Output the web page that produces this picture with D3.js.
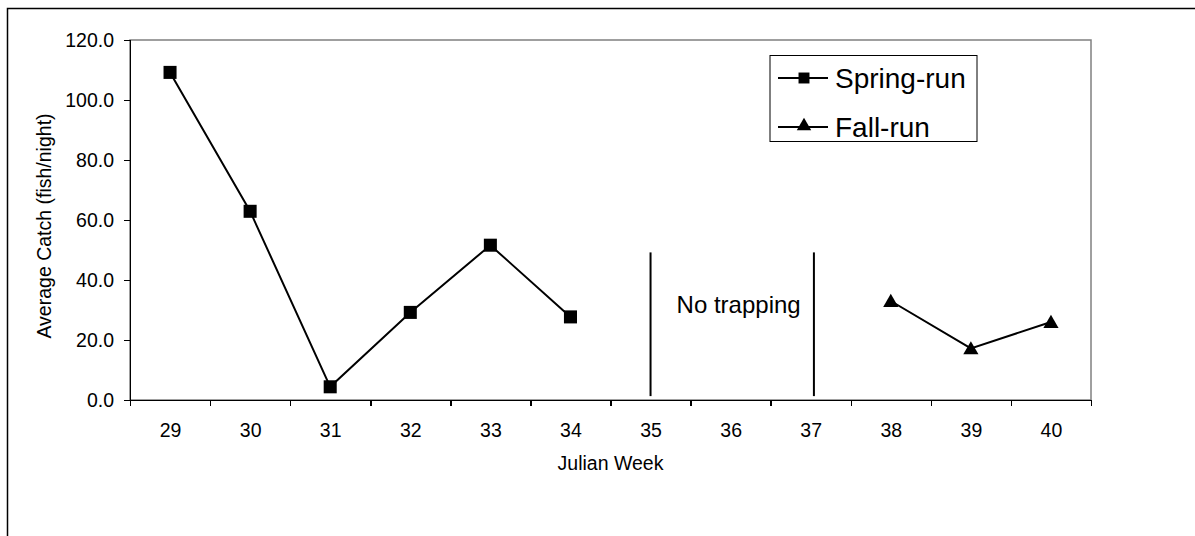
<!DOCTYPE html>
<html>
  <head>
    <meta charset="UTF-8">
    <title>Average Catch by Julian Week</title>
    <script src="https://d3js.org/d3.v7.min.js"></script>
    <style>
    body { margin: 0; background: #fff; }
    text { font-family: Arial, "Liberation Sans", sans-serif; fill: #000; }
    .axis path, .axis line { stroke: #000; stroke-width: 1.5px; shape-rendering: crispEdges; }
    .axis text { font-size: 19.5px; }
    .series { fill: none; stroke: #000; stroke-width: 2px; }
    </style>
  </head>
  <body>
  <script type="text/javascript">

  // data
  var weeks = [29, 30, 31, 32, 33, 34, 35, 36, 37, 38, 39, 40];
  var yTicks = [0, 20, 40, 60, 80, 100, 120];
  var springWeeks = [29, 30, 31, 32, 33, 34];
  var springCatch = [109.2, 62.9, 4.4, 29.2, 51.6, 27.7];
  var fallWeeks = [38, 39, 40];
  var fallCatch = [33.0, 17.2, 26.0];
  var dividerWeeks = [35, 37.04];
  var dividerSpan = [1.3, 49.2];
  var noteText = "No trapping", noteWeek = 36.1, noteValue = 29;
  var legendNames = ["Spring-run", "Fall-run"];

  var W = 1195, H = 536;
  var m = {left: 130, top: 40, right: 1091, bottom: 400};

  var svg = d3.select('body').append('svg')
    .attr('width', W).attr('height', H);

  // outer chart border (runs off the right/bottom of the picture)
  svg.append('rect')
    .attr('x', 7.5).attr('y', 8.5)
    .attr('width', 1300).attr('height', 700)
    .attr('fill', '#fff').attr('stroke', '#000').attr('stroke-width', 1.5);

  var x = d3.scaleLinear().domain([weeks[0] - 0.5, weeks[weeks.length - 1] + 0.5]).range([m.left, m.right]);
  var y = d3.scaleLinear().domain([0, 120]).range([m.bottom, m.top]);

  // plot area frame
  svg.append('rect')
    .attr('x', m.left).attr('y', m.top)
    .attr('width', m.right - m.left).attr('height', m.bottom - m.top)
    .attr('fill', '#fff').attr('stroke', '#808080').attr('stroke-width', 1.5);

  // y axis
  svg.append('g').attr('class', 'axis')
    .attr('transform', 'translate(' + m.left + ',0)')
    .call(d3.axisLeft(y).tickValues(yTicks).tickSize(6).tickPadding(10).tickFormat(d3.format('.1f')));

  // x axis: labels at band centers, ticks at boundaries
  var gx = svg.append('g').attr('class', 'axis')
    .attr('transform', 'translate(0,' + m.bottom + ')')
    .call(d3.axisBottom(x).tickValues(weeks).tickSize(0).tickPadding(23).tickFormat(d3.format('d')));
  gx.select('.domain').remove();
  svg.append('g').attr('class', 'axis')
    .attr('transform', 'translate(0,' + m.bottom + ')')
    .call(d3.axisBottom(x).tickValues(weeks.map(d => d - 0.5).concat([weeks[weeks.length - 1] + 0.5]))
      .tickSize(6).tickSizeOuter(0).tickFormat(''));

  // axis titles
  svg.append('text')
    .attr('x', (m.left + m.right) / 2).attr('y', 463)
    .attr('text-anchor', 'middle').attr('dy', '0.35em')
    .style('font-size', '19.5px')
    .text('Julian Week');

  svg.append('text')
    .attr('transform', 'translate(44,226) rotate(-90)')
    .attr('text-anchor', 'middle').attr('dy', '0.35em')
    .style('font-size', '19.5px')
    .text('Average Catch (fish/night)');

  // no trapping dividers
  svg.selectAll('.divider').data(dividerWeeks).enter().append('line')
    .attr('class', 'divider')
    .attr('x1', d => x(d)).attr('x2', d => x(d))
    .attr('y1', y(dividerSpan[0])).attr('y2', y(dividerSpan[1]))
    .attr('stroke', '#000').attr('stroke-width', 2);

  svg.append('text')
    .attr('x', x(noteWeek)).attr('y', y(noteValue))
    .attr('text-anchor', 'middle')
    .style('font-size', '24px')
    .text(noteText);

  var line = d3.line().x(d => x(d[0])).y(d => y(d[1]));
  var spring = springWeeks.map((w, i) => [w, springCatch[i]]);
  var fall = fallWeeks.map((w, i) => [w, fallCatch[i]]);

  var square = d3.symbol().type(d3.symbolSquare).size(170);
  var triangle = d3.symbol().type(d3.symbolTriangle).size(100);

  svg.append('path').attr('class', 'series').attr('d', line(spring));
  svg.append('path').attr('class', 'series').attr('d', line(fall));

  svg.selectAll('.sq').data(spring).enter().append('path')
    .attr('class', 'sq')
    .attr('transform', d => 'translate(' + x(d[0]) + ',' + y(d[1]) + ')')
    .attr('d', square).attr('fill', '#000');

  svg.selectAll('.tri').data(fall).enter().append('path')
    .attr('class', 'tri')
    .attr('transform', d => 'translate(' + x(d[0]) + ',' + (y(d[1]) + 1.5) + ')')
    .attr('d', triangle).attr('fill', '#000');

  // legend
  var lg = svg.append('g').attr('transform', 'translate(770,55.5)');
  lg.append('rect').attr('width', 207).attr('height', 86)
    .attr('fill', '#fff').attr('stroke', '#000').attr('stroke-width', 1);

  var rows = lg.selectAll('.row').data(legendNames).enter().append('g')
    .attr('transform', (d, i) => 'translate(0,' + (22.5 + i * 49) + ')');
  rows.append('line').attr('x1', 8).attr('x2', 58)
    .attr('stroke', '#000').attr('stroke-width', 2);
  rows.append('path')
    .attr('transform', (d, i) => 'translate(34,' + (i ? -1 : 0) + ')')
    .attr('d', (d, i) => i ? d3.symbol().type(d3.symbolTriangle).size(90)() : d3.symbol().type(d3.symbolSquare).size(120)())
    .attr('fill', '#000');
  rows.append('text').attr('x', 65).attr('dy', '0.35em')
    .style('font-size', '28px')
    .text(d => d);

  </script>
  </body>
</html>
